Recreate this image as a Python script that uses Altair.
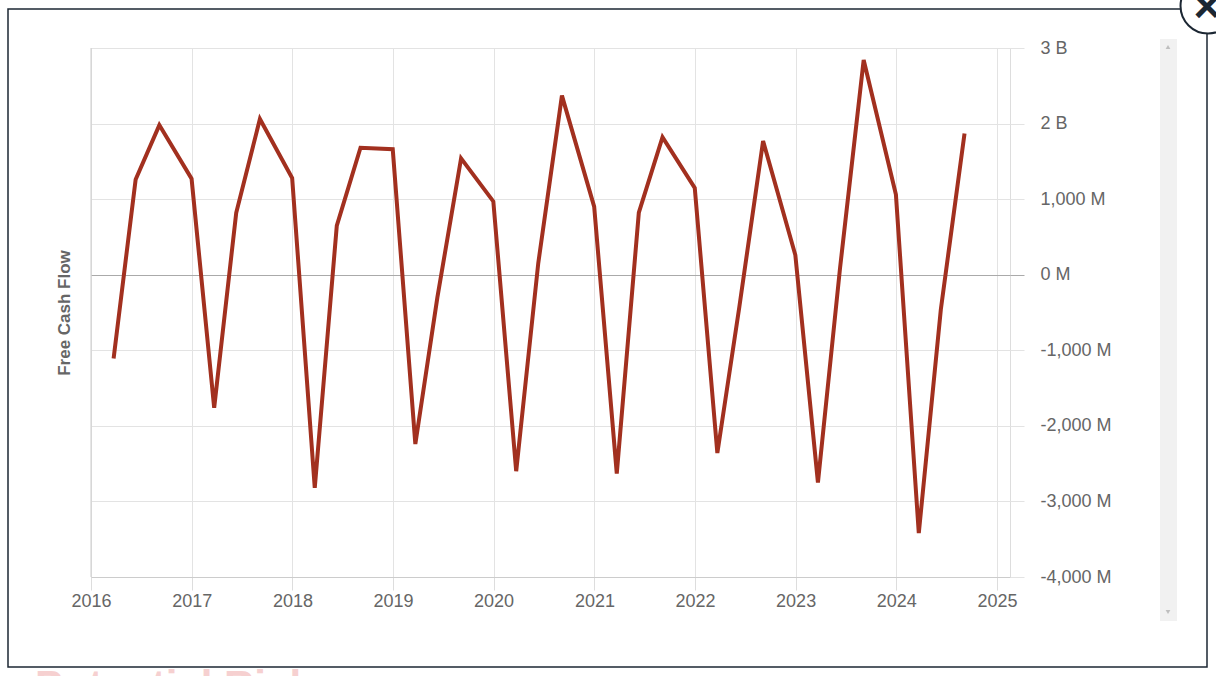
import altair as alt
import pandas as pd

# ---- data ----
years = [2016, 2017, 2018, 2019, 2020, 2021, 2022, 2023, 2024]
quarter_days = ["03-23", "06-11", "09-05", "12-31"]
fcf_billions = [
    [-1.11, 1.26, 1.98, 1.27],
    [-1.76, 0.82, 2.06, 1.28],
    [-2.82, 0.65, 1.68, 1.66],
    [-2.24, -0.30, 1.54, 0.97],
    [-2.60, 0.15, 2.37, 0.90],
    [-2.63, 0.82, 1.82, 1.15],
    [-2.36, -0.42, 1.77, 0.26],
    [-2.75, 0.08, 2.84, 1.06],
    [-3.42, -0.46, 1.87],
]
y_ticks = [-4e9, -3e9, -2e9, -1e9, 0, 1e9, 2e9, 3e9]
x_tick_years = list(range(2016, 2026))

rows = []
for yr, vals in zip(years, fcf_billions):
    for qd, v in zip(quarter_days, vals):
        rows.append({"date": f"{yr}-{qd}", "fcf": v * 1e9})
df = pd.DataFrame(rows)

W, H = 919, 529
LINE = "#a2301f"
GRID = "#e3e3e3"
TEXT = "#666666"
DARK = "#1c2733"

label_expr = (
    "datum.value >= 2000000000 ? format(datum.value/1000000000, 'd') + ' B' : "
    "(datum.value < 0 ? '-' : '') + format(abs(datum.value)/1000000, ',') + ' M'"
)

base = alt.Chart(df)

line = base.mark_line(color=LINE, strokeWidth=4, strokeJoin="miter", strokeCap="butt").encode(
    x=alt.X(
        "date:T",
        scale=alt.Scale(
            type="utc",
            domain=[alt.DateTime(year=2016, month=1, date=1, utc=True),
                    alt.DateTime(year=2025, month=2, date=17, utc=True)],
        ),
        axis=alt.Axis(
            values=[alt.DateTime(year=y, month=1, date=1, utc=True) for y in x_tick_years],
            format="%Y",
            title=None,
            grid=True,
            gridColor=GRID,
            domainColor="#cccccc",
            tickColor="#dddddd",
            tickSize=13,
            labelPadding=2,
            labelFlush=False,
            labelFontSize=18,
            labelColor=TEXT,
            labelFont="Liberation Sans",
        ),
    ),
    y=alt.Y(
        "fcf:Q",
        scale=alt.Scale(domain=[-4e9, 3e9], nice=False, zero=False),
        axis=alt.Axis(
            orient="right",
            values=y_ticks,
            labelExpr=label_expr,
            grid=True,
            gridColor=alt.condition("datum.value === 0", alt.value("#aaaaaa"), alt.value(GRID)),
            tickColor=alt.condition("datum.value === 0", alt.value("#aaaaaa"), alt.value(GRID)),
            domain=False,
            tickSize=14,
            labelPadding=16,
            labelFlush=False,
            labelFontSize=18,
            labelColor=TEXT,
            labelFont="Liberation Sans",
            labelAlign="left",
            labelBaseline="middle",
            title="Free Cash Flow",
            titleFont="Liberation Sans",
            titleFontSize=17,
            titleFontWeight="bold",
            titleColor=TEXT,
            titleAngle=270,
            titleAlign="center",
            titleBaseline="middle",
            titleX=-946,
            titleY=H / 2,
        ),
    ),
)

one = pd.DataFrame({"a": [0]})

left_line = alt.Chart(one).mark_rule(color="#cccccc", strokeWidth=1).encode(
    x=alt.value(0), y=alt.value(0), y2=alt.value(H)
)

frame = alt.Chart(one).mark_rect(fillOpacity=0, stroke=DARK, strokeWidth=1.5).encode(
    x=alt.value(8 - 91), x2=alt.value(1207 - 91), y=alt.value(9 - 48), y2=alt.value(667 - 48)
)

scroll = alt.Chart(one).mark_rect(fill="#f1f1f1").encode(
    x=alt.value(1160 - 91), x2=alt.value(1177 - 91), y=alt.value(39 - 48), y2=alt.value(621 - 48)
)
arrow_up = alt.Chart(one).mark_point(shape="triangle-up", filled=True, color="#a8a8a8", size=22).encode(
    x=alt.value(1168 - 91), y=alt.value(47 - 48)
)
arrow_dn = alt.Chart(one).mark_point(shape="triangle-down", filled=True, color="#a8a8a8", size=22).encode(
    x=alt.value(1168 - 91), y=alt.value(612 - 48)
)

close_circle = alt.Chart(one).mark_point(
    shape="circle", filled=True, fill="white", stroke=DARK, strokeWidth=2, size=3019, opacity=1
).encode(x=alt.value(1208 - 91), y=alt.value(6 - 48))
close_x = alt.Chart(one).mark_text(
    text="×", font="Liberation Sans", fontSize=46, fontWeight="bold", color=DARK, align="center", baseline="middle"
).encode(x=alt.value(1207 - 91), y=alt.value(8 - 48))

watermark = alt.Chart(one).mark_text(
    text="Potential Risk", font="Liberation Sans", fontSize=42, fontWeight="bold", color="#f6d0d0",
    align="left", baseline="alphabetic"
).encode(x=alt.value(35 - 91), y=alt.value(700 - 48))

chart = alt.layer(
    watermark, frame, scroll, arrow_up, arrow_dn, line, left_line, close_circle, close_x
).properties(
    width=W,
    height=H,
    autosize=alt.AutoSizeParams(type="none"),
    padding={"left": 91, "top": 48, "right": 1216 - 91 - W, "bottom": 676 - 48 - H},
    background="white",
).configure_view(stroke=GRID, strokeWidth=1).configure(font="Liberation Sans")

chart.save("out.html", embed_options={"renderer": "svg", "actions": False})
